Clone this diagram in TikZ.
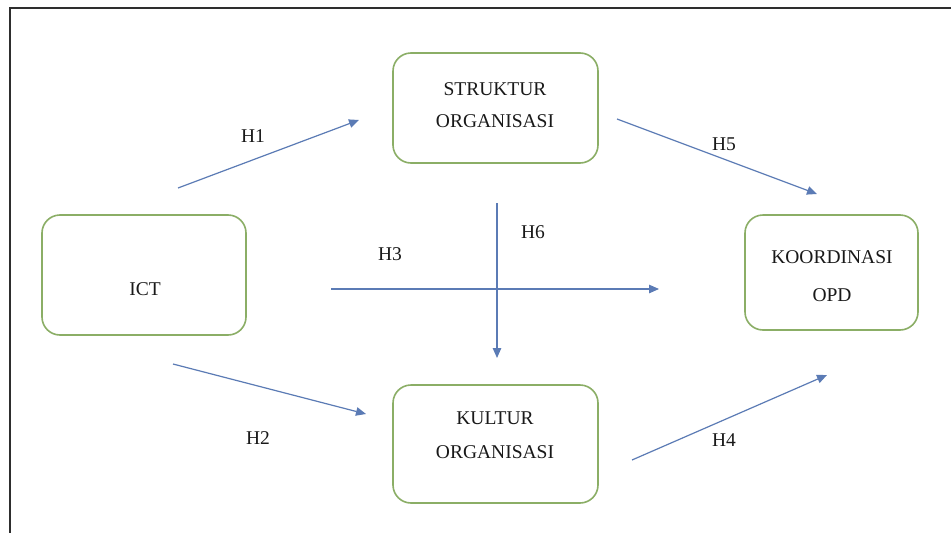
\documentclass[tikz,border=0pt]{standalone}
\usepackage{fontspec}
\setmainfont{Liberation Serif}
\usetikzlibrary{arrows.meta}
\definecolor{boxgreen}{HTML}{8BAE66}
\definecolor{arrowblue}{HTML}{5B7BB5}
\definecolor{framegray}{HTML}{2E2E2E}
\begin{document}
\begin{tikzpicture}[x=1pt,y=-1pt,
  box/.style={draw=boxgreen, line width=1.6pt, rounded corners=18pt, fill=white, inner sep=0pt},
  txt/.style={font=\fontsize{19.5}{22}\selectfont, text=black!90, inner sep=0pt},
  conn/.style={draw=arrowblue, line width=1.2pt, -{Triangle[length=10pt,width=8.5pt]}}]
\useasboundingbox (0,0) rectangle (951,533);
\fill[white] (0,0) rectangle (951,533);
\draw[framegray, line width=2.8pt] (10,533) -- (10,8) -- (951,8);

% boxes
\node[box, minimum width=204pt, minimum height=120pt] (ict) at (144,275) {};
\node[box, minimum width=205pt, minimum height=110pt] (str) at (495.5,108) {};
\node[box, minimum width=173pt, minimum height=115pt] (koo) at (831.5,272.5) {};
\node[box, minimum width=205pt, minimum height=118pt] (kul) at (495.5,444) {};

% texts
\node[txt] (tict) at (145,289) {ICT};
\node[txt] (tstr1) at (495,89) {STRUKTUR};
\node[txt] (tstr2) at (495,121) {ORGANISASI};
\node[txt] (tkoo1) at (832,257) {KOORDINASI};
\node[txt] (tkoo2) at (832,295) {OPD};
\node[txt] (tkul1) at (495,418) {KULTUR};
\node[txt] (tkul2) at (495,452) {ORGANISASI};

% arrow ends
\coordinate (h1s) at (178,188);
\coordinate (h1e) at (359,120);
\coordinate (h2s) at (173,364);
\coordinate (h2e) at (366,414);
\coordinate (h3s) at (331,289);
\coordinate (h3e) at (659,289);
\coordinate (h6s) at (497,203);
\coordinate (h6e) at (497,358);
\coordinate (h5s) at (617,119);
\coordinate (h5e) at (817,194);
\coordinate (h4s) at (632,460);
\coordinate (h4e) at (827,375);

\draw[conn] (h1s) -- (h1e);
\draw[conn] (h2s) -- (h2e);
\draw[conn] (h3s) -- (h3e);
\draw[conn] (h6s) -- (h6e);
\draw[conn] (h5s) -- (h5e);
\draw[conn] (h4s) -- (h4e);

% labels
\node[txt] (l1) at (253,136) {H1};
\node[txt] (l2) at (258,438) {H2};
\node[txt] (l3) at (390,254) {H3};
\node[txt] (l6) at (533,232) {H6};
\node[txt] (l5) at (724,144) {H5};
\node[txt] (l4) at (724,440) {H4};
\end{tikzpicture}
\end{document}
